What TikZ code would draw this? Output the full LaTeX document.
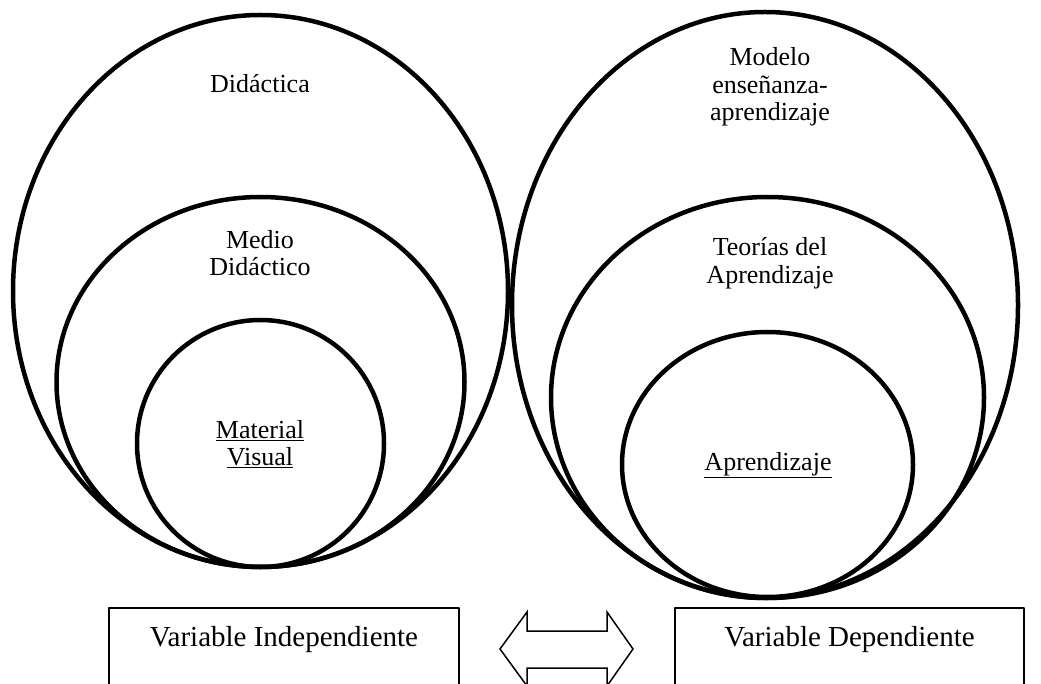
\documentclass[tikz,border=0pt]{standalone}
\usepackage{fontspec}
\setmainfont{Liberation Serif}
\begin{document}
\begin{tikzpicture}[x=1pt, y=-1pt, line join=round, line cap=round,
	circ/.style={line width=4.5pt},
	lbl/.style={align=center, font=\fontsize{26}{27.5}\selectfont, inner sep=0pt},
	vbox/.style={draw, line width=2pt, anchor=north west, minimum width=350pt,
		font=\fontsize{29}{31}\selectfont, text height=30pt, text depth=40pt, inner xsep=0pt, inner ysep=8pt}]
	\useasboundingbox (0,0) rectangle (1041,684);
	\clip (0,0) rectangle (1041,684);
	% izquierda
	\draw[circ] (260.5,291) ellipse [x radius=247.5pt, y radius=276pt];
	\draw[circ] (260.5,382) ellipse [x radius=204pt, y radius=185pt];
	\draw[circ] (260.5,443.5) ellipse [x radius=123.5pt, y radius=123.5pt];
	% derecha
	\draw[circ] (765,305) ellipse [x radius=253pt, y radius=293pt];
	\draw[circ] (767.5,397.5) ellipse [x radius=216.5pt, y radius=200.5pt];
	\draw[circ] (767.5,464.5) ellipse [x radius=145.5pt, y radius=132.5pt];
	\node[lbl] (did) at (260,84) {Didáctica};
	\node[lbl] (med) at (260,253) {Medio\\Didáctico};
	\node[lbl] (mat) at (260,444) {\underline{Material}\\\underline{Visual}};
	\node[lbl] (mod) at (770,87) {Modelo\\enseñanza-\\aprendizaje};
	\node[lbl] (teo) at (770,263) {Teorías del\\Aprendizaje};
	\node[lbl] (apr) at (768,465) {\underline{Aprendizaje}};
	% variables
	\node[vbox] (vi) at (108,607) {Variable Independiente};
	\node[vbox, minimum width=349pt] (vd) at (674,607) {Variable Dependiente};
	\draw[line width=1.5pt, line join=miter] (500,649)--(527,612)--(527,631)--(607,631)--(607,612)--(633,649)
		--(607,686)--(607,668)--(527,668)--(527,686)--cycle;
\end{tikzpicture}
\end{document}
